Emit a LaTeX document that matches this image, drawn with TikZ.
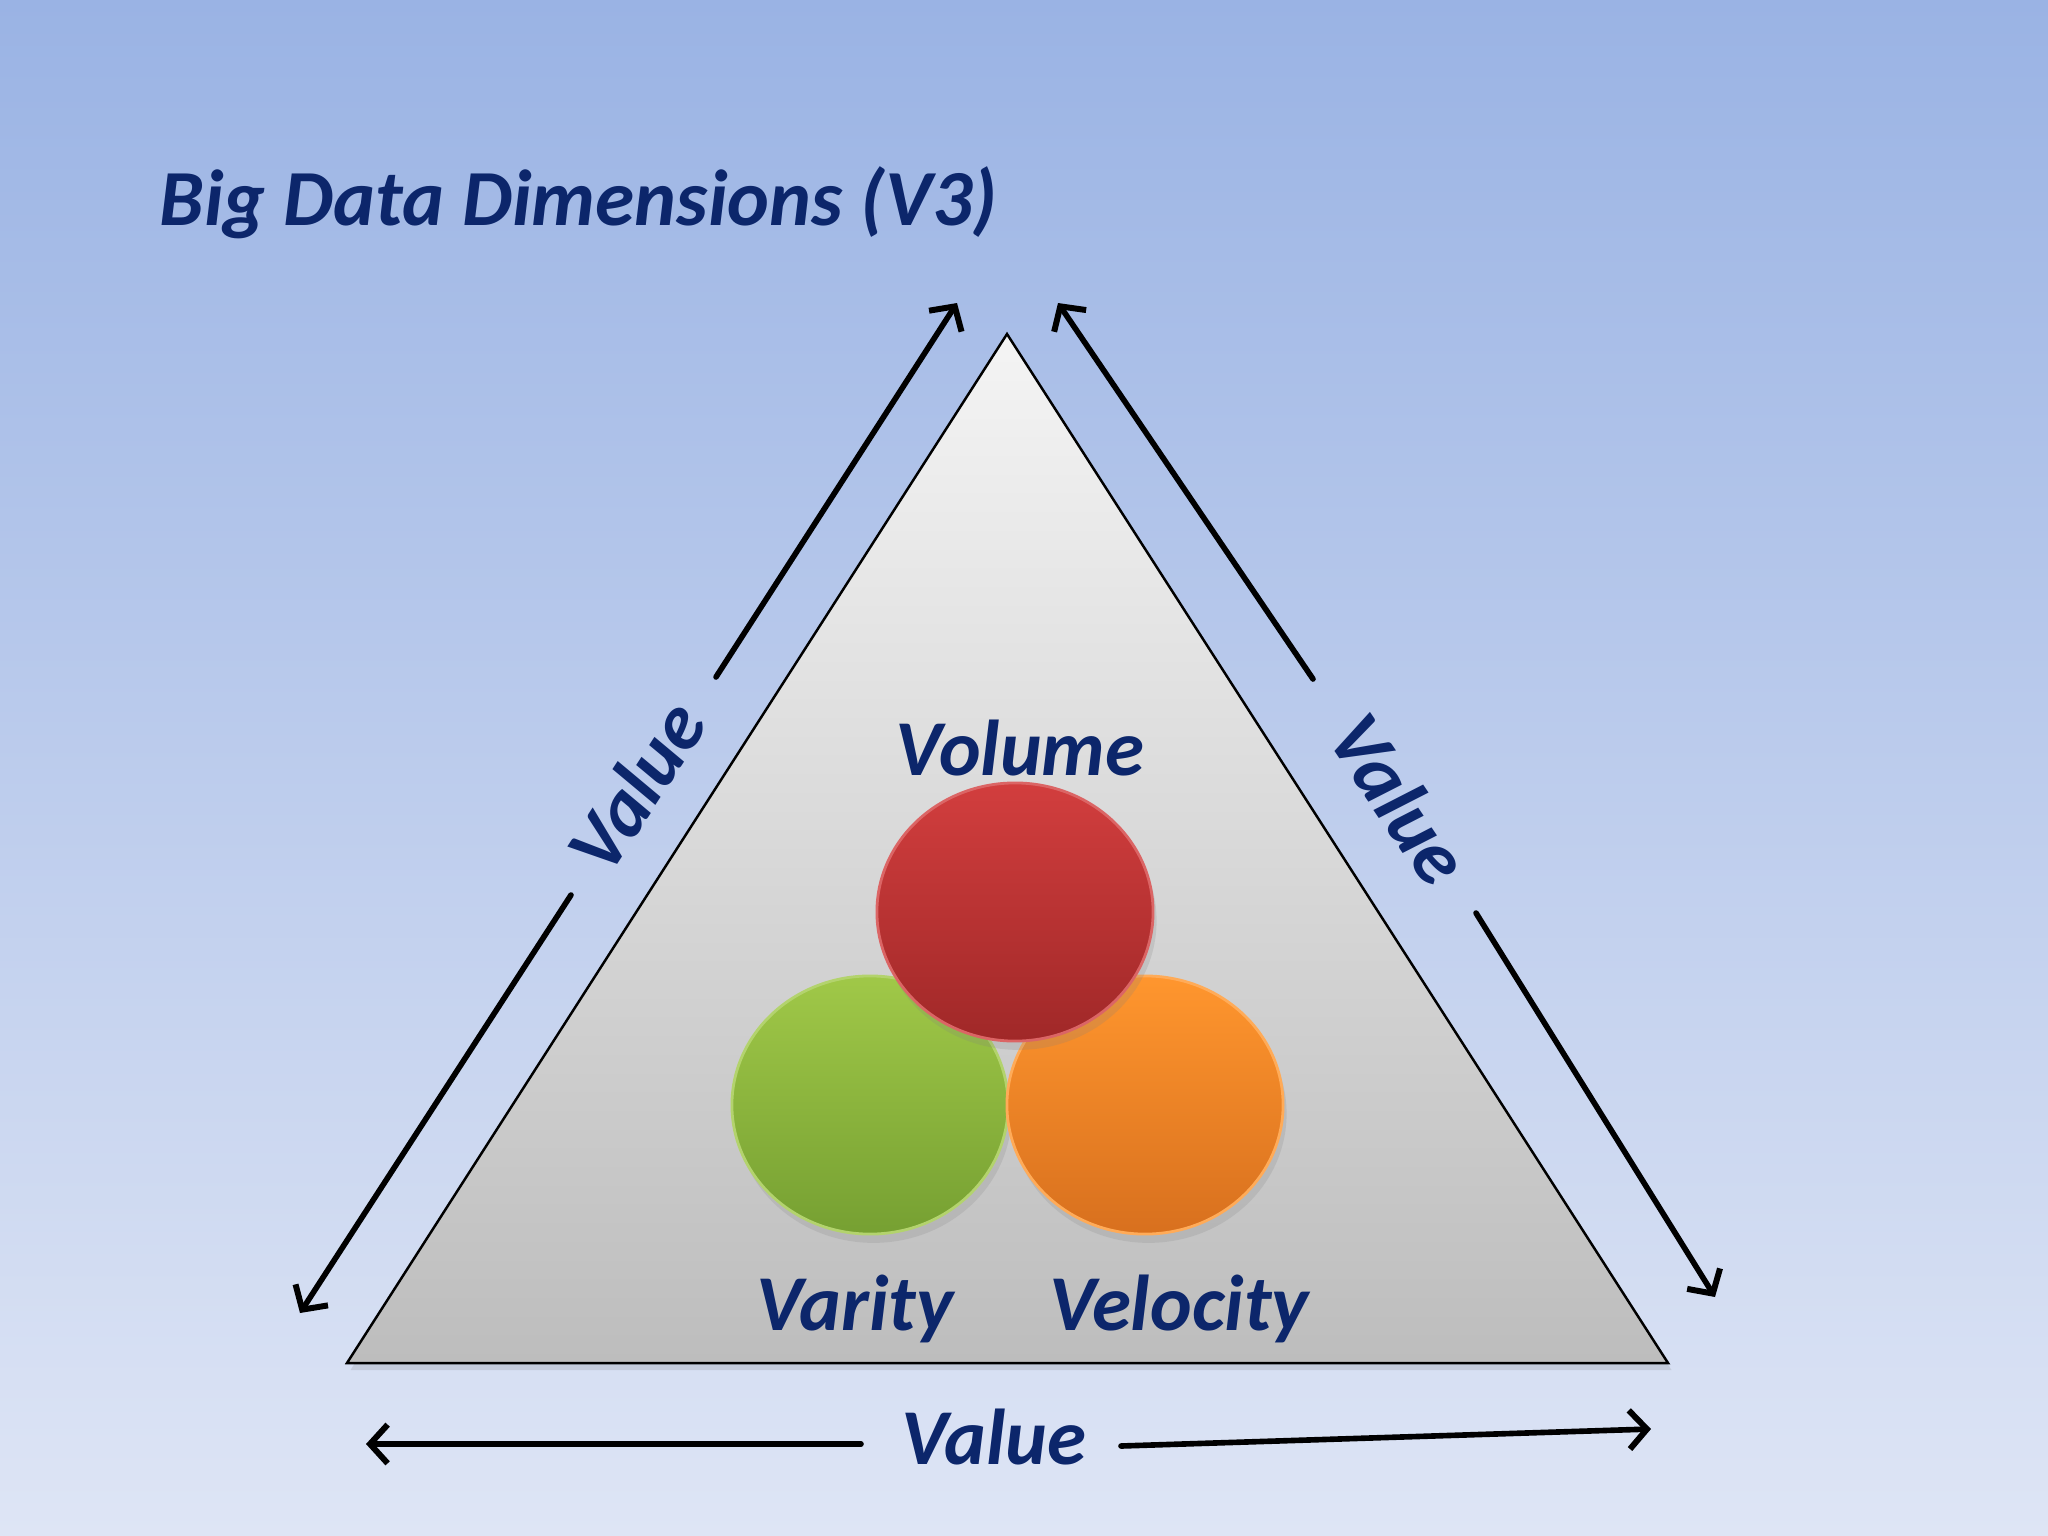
\documentclass[tikz,border=0pt]{standalone}
\usepackage{fontspec}
\setmainfont{Carlito}
\usetikzlibrary{arrows.meta,shapes.geometric,shadows}
\definecolor{navy}{HTML}{0C266B}
\definecolor{bgtop}{HTML}{9AB3E4}
\definecolor{bgbot}{HTML}{DEE5F5}
\definecolor{tritop}{HTML}{F4F4F4}
\definecolor{tribot}{HTML}{BDBDBD}
\definecolor{redtop}{HTML}{D23E3E}
\definecolor{redbot}{HTML}{A02828}
\definecolor{grntop}{HTML}{A0C848}
\definecolor{grnbot}{HTML}{76A032}
\definecolor{orgtop}{HTML}{FF962E}
\definecolor{orgbot}{HTML}{D8701E}
\begin{document}
\begin{tikzpicture}[x=0.01cm,y=-0.01cm,
  lbl/.style={text=navy,inner sep=0pt,font=\fontsize{22.5}{27}\selectfont\bfseries\itshape},
  arr/.style={line width=1.6pt,line cap=round,-{Straight Barb[length=5pt,width=11pt,line width=1.7pt]}},
  ball/.style={ellipse,minimum width=2.76cm,minimum height=2.58cm,inner sep=0pt,line width=0.8pt,
    drop shadow={opacity=0.2,shadow xshift=1pt,shadow yshift=-2.5pt}}]
\shade[top color=bgtop,bottom color=bgbot] (0,0) rectangle (2048,1536);
\useasboundingbox (0,0) rectangle (2048,1536);
% triangle
\coordinate (A) at (1007,334);
\coordinate (B) at (347,1363);
\coordinate (C) at (1668,1363);
\path[draw=black,line width=0.7pt,top color=tritop,bottom color=tribot,
  drop shadow={opacity=0.2,shadow xshift=1pt,shadow yshift=-2pt}] (A) -- (B) -- (C) -- cycle;
% title
\node[lbl,anchor=base west,font=\fontsize{22.6}{28}\selectfont\bfseries\itshape] (title) at (159,225) {Big Data Dimensions (V3)};
% circles
\node[ball,draw=grntop!80!white,top color=grntop,bottom color=grnbot] (var) at (870,1105) {};
\node[ball,draw=orgtop!80!white,top color=orgtop,bottom color=orgbot] (vel) at (1145,1105) {};
\node[ball,draw=redtop!80!white,top color=redtop,bottom color=redbot] (vol) at (1015,912) {};
% labels
\node[lbl] (volume) at (1020,748) {Volume};
\node[lbl] (varity) at (855,1309) {Varity};
\node[lbl] (velocity) at (1179,1309) {Velocity};
\node[lbl] (valB) at (994,1437) {Value};
\node[lbl,rotate=57] (valL) at (636,786) {Value};
\node[lbl,rotate=-56] (valR) at (1400,799) {Value};
% arrow ends
\coordinate (l1s) at (716,677);  \coordinate (l1e) at (957,303);
\coordinate (l2s) at (571,895);  \coordinate (l2e) at (300,1313);
\coordinate (r1s) at (1313,679); \coordinate (r1e) at (1058,303);
\coordinate (r2s) at (1476,913); \coordinate (r2e) at (1715,1297);
\coordinate (b1s) at (861,1444); \coordinate (b1e) at (366,1444);
\coordinate (b2s) at (1121,1446);\coordinate (b2e) at (1651,1429);
\draw[arr] (l1s) -- (l1e);
\draw[arr] (l2s) -- (l2e);
\draw[arr] (r1s) -- (r1e);
\draw[arr] (r2s) -- (r2e);
\draw[arr] (b1s) -- (b1e);
\draw[arr] (b2s) -- (b2e);
\end{tikzpicture}
\end{document}
